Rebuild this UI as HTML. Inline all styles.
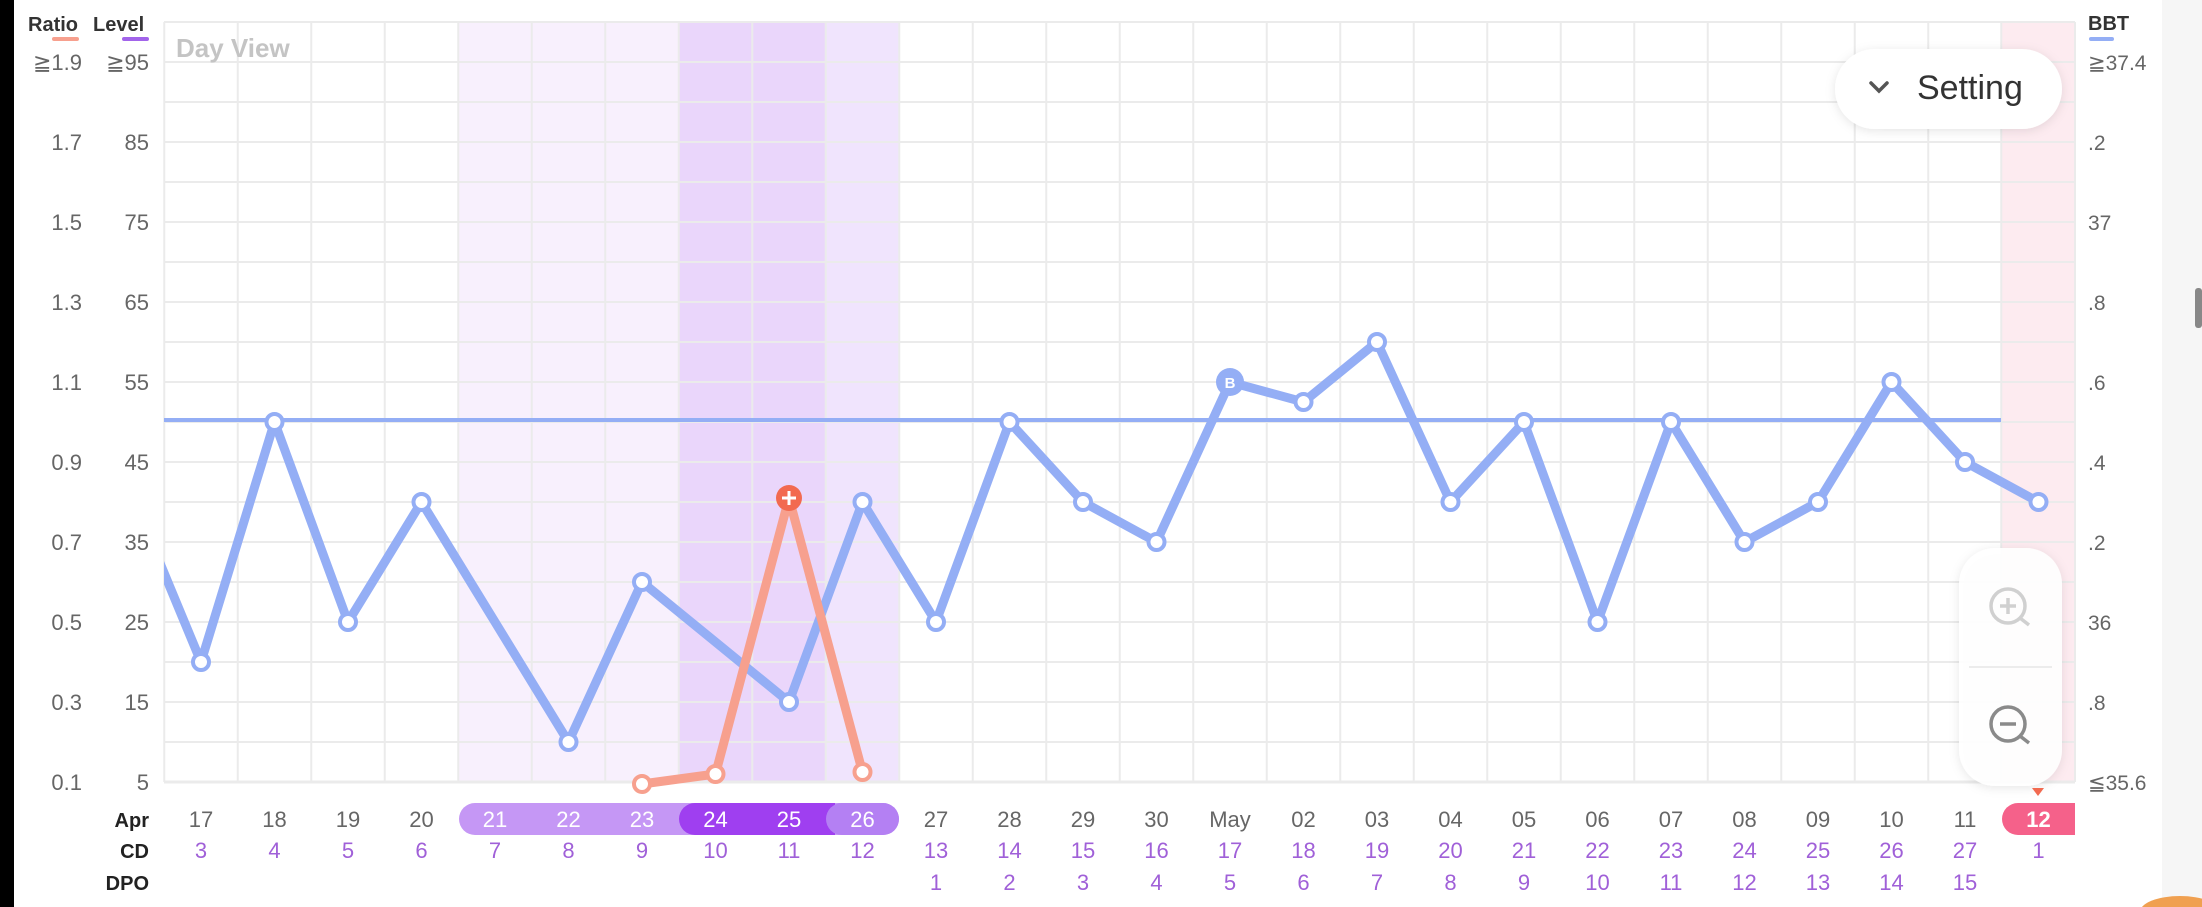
<!DOCTYPE html>
<html><head><meta charset="utf-8"><style>
html,body{margin:0;padding:0;background:#fff;width:2202px;height:907px;overflow:hidden}
svg{display:block;font-family:"Liberation Sans",sans-serif}
</style></head><body>
<svg width="2202" height="907" viewBox="0 0 2202 907" xmlns="http://www.w3.org/2000/svg">
<defs><clipPath id="pc"><rect x="164" y="0" width="1911" height="907"/></clipPath>
<filter id="sh" x="-20%" y="-30%" width="140%" height="160%"><feDropShadow dx="0" dy="2" stdDeviation="5" flood-color="#000" flood-opacity="0.10"/></filter></defs>
<rect width="2202" height="907" fill="#fff"/>
<rect x="0" y="0" width="14" height="907" fill="#000"/>
<rect x="2162" y="0" width="40" height="907" fill="#f6f6f6"/>
<rect x="2195" y="288" width="7" height="40" rx="3" fill="#888"/>
<rect x="458.25" y="22" width="220.5" height="760" fill="#f8f0fd"/>
<rect x="678.75" y="22" width="147" height="760" fill="#ead6fb"/>
<rect x="825.75" y="22" width="73.5" height="760" fill="#f0e4fd"/>
<rect x="2001.25" y="22" width="74" height="760" fill="#fdebf0"/>
<g stroke="#ebebeb" stroke-width="2">
<line x1="164" y1="22" x2="2075" y2="22"/><line x1="164" y1="62" x2="2075" y2="62"/><line x1="164" y1="102" x2="2075" y2="102"/><line x1="164" y1="142" x2="2075" y2="142"/><line x1="164" y1="182" x2="2075" y2="182"/><line x1="164" y1="222" x2="2075" y2="222"/><line x1="164" y1="262" x2="2075" y2="262"/><line x1="164" y1="302" x2="2075" y2="302"/><line x1="164" y1="342" x2="2075" y2="342"/><line x1="164" y1="382" x2="2075" y2="382"/><line x1="164" y1="422" x2="2075" y2="422"/><line x1="164" y1="462" x2="2075" y2="462"/><line x1="164" y1="502" x2="2075" y2="502"/><line x1="164" y1="542" x2="2075" y2="542"/><line x1="164" y1="582" x2="2075" y2="582"/><line x1="164" y1="622" x2="2075" y2="622"/><line x1="164" y1="662" x2="2075" y2="662"/><line x1="164" y1="702" x2="2075" y2="702"/><line x1="164" y1="742" x2="2075" y2="742"/><line x1="164" y1="782" x2="2075" y2="782" stroke-width="3"/>
</g>
<g stroke="#ebebeb" stroke-width="2">
<line x1="164.25" y1="22" x2="164.25" y2="782"/><line x1="237.75" y1="22" x2="237.75" y2="782"/><line x1="311.25" y1="22" x2="311.25" y2="782"/><line x1="384.75" y1="22" x2="384.75" y2="782"/><line x1="458.25" y1="22" x2="458.25" y2="782"/><line x1="531.75" y1="22" x2="531.75" y2="782"/><line x1="605.25" y1="22" x2="605.25" y2="782"/><line x1="678.75" y1="22" x2="678.75" y2="782"/><line x1="752.25" y1="22" x2="752.25" y2="782"/><line x1="825.75" y1="22" x2="825.75" y2="782"/><line x1="899.25" y1="22" x2="899.25" y2="782"/><line x1="972.75" y1="22" x2="972.75" y2="782"/><line x1="1046.25" y1="22" x2="1046.25" y2="782"/><line x1="1119.75" y1="22" x2="1119.75" y2="782"/><line x1="1193.25" y1="22" x2="1193.25" y2="782"/><line x1="1266.75" y1="22" x2="1266.75" y2="782"/><line x1="1340.25" y1="22" x2="1340.25" y2="782"/><line x1="1413.75" y1="22" x2="1413.75" y2="782"/><line x1="1487.25" y1="22" x2="1487.25" y2="782"/><line x1="1560.75" y1="22" x2="1560.75" y2="782"/><line x1="1634.25" y1="22" x2="1634.25" y2="782"/><line x1="1707.75" y1="22" x2="1707.75" y2="782"/><line x1="1781.25" y1="22" x2="1781.25" y2="782"/><line x1="1854.75" y1="22" x2="1854.75" y2="782"/><line x1="1928.25" y1="22" x2="1928.25" y2="782"/><line x1="2001.25" y1="22" x2="2001.25" y2="782"/><line x1="2075" y1="22" x2="2075" y2="782"/>
</g>
<text x="176" y="57" font-size="26" font-weight="bold" fill="#c4c4c4">Day View</text>
<text x="28" y="31" font-size="20" font-weight="bold" fill="#333">Ratio</text>
<rect x="52" y="37" width="27" height="4" rx="2" fill="#f7a08e"/>
<text x="93" y="31" font-size="20" font-weight="bold" fill="#333">Level</text>
<rect x="122" y="37" width="27" height="4" rx="2" fill="#a264ea"/>
<g font-size="22" fill="#666" text-anchor="end">
<text x="82" y="70">≧1.9</text><text x="149" y="70">≧95</text>
<text x="82" y="150">1.7</text><text x="149" y="150">85</text>
<text x="82" y="230">1.5</text><text x="149" y="230">75</text>
<text x="82" y="310">1.3</text><text x="149" y="310">65</text>
<text x="82" y="390">1.1</text><text x="149" y="390">55</text>
<text x="82" y="470">0.9</text><text x="149" y="470">45</text>
<text x="82" y="550">0.7</text><text x="149" y="550">35</text>
<text x="82" y="630">0.5</text><text x="149" y="630">25</text>
<text x="82" y="710">0.3</text><text x="149" y="710">15</text>
<text x="82" y="790">0.1</text><text x="149" y="790">5</text>
</g>
<text x="2088" y="30" font-size="20" font-weight="bold" fill="#333">BBT</text>
<rect x="2089" y="37" width="25" height="4" rx="2" fill="#94aef5"/>
<g font-size="21" fill="#666">
<text x="2088" y="70">≧37.4</text><text x="2088" y="150">.2</text><text x="2088" y="230">37</text><text x="2088" y="310">.8</text><text x="2088" y="390">.6</text><text x="2088" y="470">.4</text><text x="2088" y="550">.2</text><text x="2088" y="630">36</text><text x="2088" y="710">.8</text><text x="2088" y="790">≦35.6</text>
</g>
<line x1="164" y1="420" x2="2001" y2="420" stroke="#94aef5" stroke-width="4"/>
<g clip-path="url(#pc)">
<polyline fill="none" stroke="#94aef5" stroke-width="9" stroke-linejoin="round" points="128,486 201,662 274.5,422 348,622 421.5,502 568.5,742 642,582 789,702 862.5,502 936,622 1009.5,422 1083,502 1156.5,542 1230,382 1303.5,402 1377,342 1450.5,502 1524,422 1597.5,622 1671,422 1744.5,542 1818,502 1891.5,382 1965,462 2038.5,502"/>
</g>
<g fill="#fff" stroke="#94aef5" stroke-width="4">
<circle cx="201" cy="662" r="8"/><circle cx="274.5" cy="422" r="8"/><circle cx="348" cy="622" r="8"/><circle cx="421.5" cy="502" r="8"/><circle cx="568.5" cy="742" r="8"/><circle cx="642" cy="582" r="8"/><circle cx="789" cy="702" r="8"/><circle cx="862.5" cy="502" r="8"/><circle cx="936" cy="622" r="8"/><circle cx="1009.5" cy="422" r="8"/><circle cx="1083" cy="502" r="8"/><circle cx="1156.5" cy="542" r="8"/><circle cx="1303.5" cy="402" r="8"/><circle cx="1377" cy="342" r="8"/><circle cx="1450.5" cy="502" r="8"/><circle cx="1524" cy="422" r="8"/><circle cx="1597.5" cy="622" r="8"/><circle cx="1671" cy="422" r="8"/><circle cx="1744.5" cy="542" r="8"/><circle cx="1818" cy="502" r="8"/><circle cx="1891.5" cy="382" r="8"/><circle cx="1965" cy="462" r="8"/><circle cx="2038.5" cy="502" r="8"/>
</g>
<circle cx="1230" cy="382" r="14" fill="#94aef5"/>
<text x="1230" y="388" font-size="15" font-weight="bold" fill="#fff" text-anchor="middle">B</text>
<polyline fill="none" stroke="#f7a08e" stroke-width="9" stroke-linejoin="round" points="642,784 715.5,774 789,498 862.5,772"/>
<g fill="#fff" stroke="#f7a08e" stroke-width="4"><circle cx="642" cy="784" r="8"/><circle cx="715.5" cy="774" r="8"/><circle cx="862.5" cy="772" r="8"/></g>
<circle cx="789" cy="498" r="13" fill="#f26a50"/>
<path d="M789 491v14M782 498h14" stroke="#fff" stroke-width="3"/>
<rect x="1835" y="49" width="227" height="80" rx="40" fill="#fff" filter="url(#sh)"/>
<path d="M1871 83l8 8 8-8" fill="none" stroke="#555" stroke-width="3.5" stroke-linecap="round"/>
<text x="1917" y="99" font-size="34" fill="#333">Setting</text>
<rect x="1959" y="548" width="103" height="238" rx="36" fill="#fff" fill-opacity="0.92" filter="url(#sh)"/>
<line x1="1969" y1="667" x2="2052" y2="667" stroke="#ececec" stroke-width="2"/>
<g fill="none" stroke="#d0d0d0" stroke-width="3.5"><circle cx="2008" cy="606" r="17"/><path d="M2020 618l9 7M2008 598v16M2000 606h16"/></g>
<g fill="none" stroke="#8a8a8a" stroke-width="3.5"><circle cx="2008" cy="724" r="17"/><path d="M2020 736l9 7M2000 724h16"/></g>
<g font-size="20" font-weight="bold" fill="#222" text-anchor="end">
<text x="149" y="827">Apr</text><text x="149" y="858">CD</text><text x="149" y="890">DPO</text>
</g>
<rect x="459" y="803" width="440" height="32" rx="16" fill="#c597f5"/>
<path d="M695 803h140v32h-140a16 16 0 0 1 0-32z" fill="#9f3ff0"/>
<path d="M842 803h41a16 16 0 0 1 0 32h-41a16 16 0 0 1 0-32z" fill="#b480f3"/>
<path d="M2018 803h57v32h-57a16 16 0 0 1 0-32z" fill="#f5618a"/>
<path d="M2032 788h12l-6 8z" fill="#f26a50"/>
<g font-size="22" text-anchor="middle" fill="#666">
<text x="201" y="827">17</text><text x="274.5" y="827">18</text><text x="348" y="827">19</text><text x="421.5" y="827">20</text>
<text x="495" y="827" fill="#fff">21</text><text x="568.5" y="827" fill="#fff">22</text><text x="642" y="827" fill="#fff">23</text><text x="715.5" y="827" fill="#fff">24</text><text x="789" y="827" fill="#fff">25</text><text x="862.5" y="827" fill="#fff">26</text>
<text x="936" y="827">27</text><text x="1009.5" y="827">28</text><text x="1083" y="827">29</text><text x="1156.5" y="827">30</text><text x="1230" y="827">May</text><text x="1303.5" y="827">02</text><text x="1377" y="827">03</text><text x="1450.5" y="827">04</text><text x="1524" y="827">05</text><text x="1597.5" y="827">06</text><text x="1671" y="827">07</text><text x="1744.5" y="827">08</text><text x="1818" y="827">09</text><text x="1891.5" y="827">10</text><text x="1965" y="827">11</text>
<text x="2038.5" y="827" fill="#fff" font-weight="bold">12</text>
</g>
<g font-size="22" text-anchor="middle" fill="#a060d8">
<text x="201" y="858">3</text><text x="274.5" y="858">4</text><text x="348" y="858">5</text><text x="421.5" y="858">6</text><text x="495" y="858">7</text><text x="568.5" y="858">8</text><text x="642" y="858">9</text><text x="715.5" y="858">10</text><text x="789" y="858">11</text><text x="862.5" y="858">12</text><text x="936" y="858">13</text><text x="1009.5" y="858">14</text><text x="1083" y="858">15</text><text x="1156.5" y="858">16</text><text x="1230" y="858">17</text><text x="1303.5" y="858">18</text><text x="1377" y="858">19</text><text x="1450.5" y="858">20</text><text x="1524" y="858">21</text><text x="1597.5" y="858">22</text><text x="1671" y="858">23</text><text x="1744.5" y="858">24</text><text x="1818" y="858">25</text><text x="1891.5" y="858">26</text><text x="1965" y="858">27</text><text x="2038.5" y="858">1</text>
<text x="936" y="890">1</text><text x="1009.5" y="890">2</text><text x="1083" y="890">3</text><text x="1156.5" y="890">4</text><text x="1230" y="890">5</text><text x="1303.5" y="890">6</text><text x="1377" y="890">7</text><text x="1450.5" y="890">8</text><text x="1524" y="890">9</text><text x="1597.5" y="890">10</text><text x="1671" y="890">11</text><text x="1744.5" y="890">12</text><text x="1818" y="890">13</text><text x="1891.5" y="890">14</text><text x="1965" y="890">15</text>
</g>
<ellipse cx="2180" cy="912" rx="40" ry="16" fill="#f0a050"/>
</svg>
</body></html>
